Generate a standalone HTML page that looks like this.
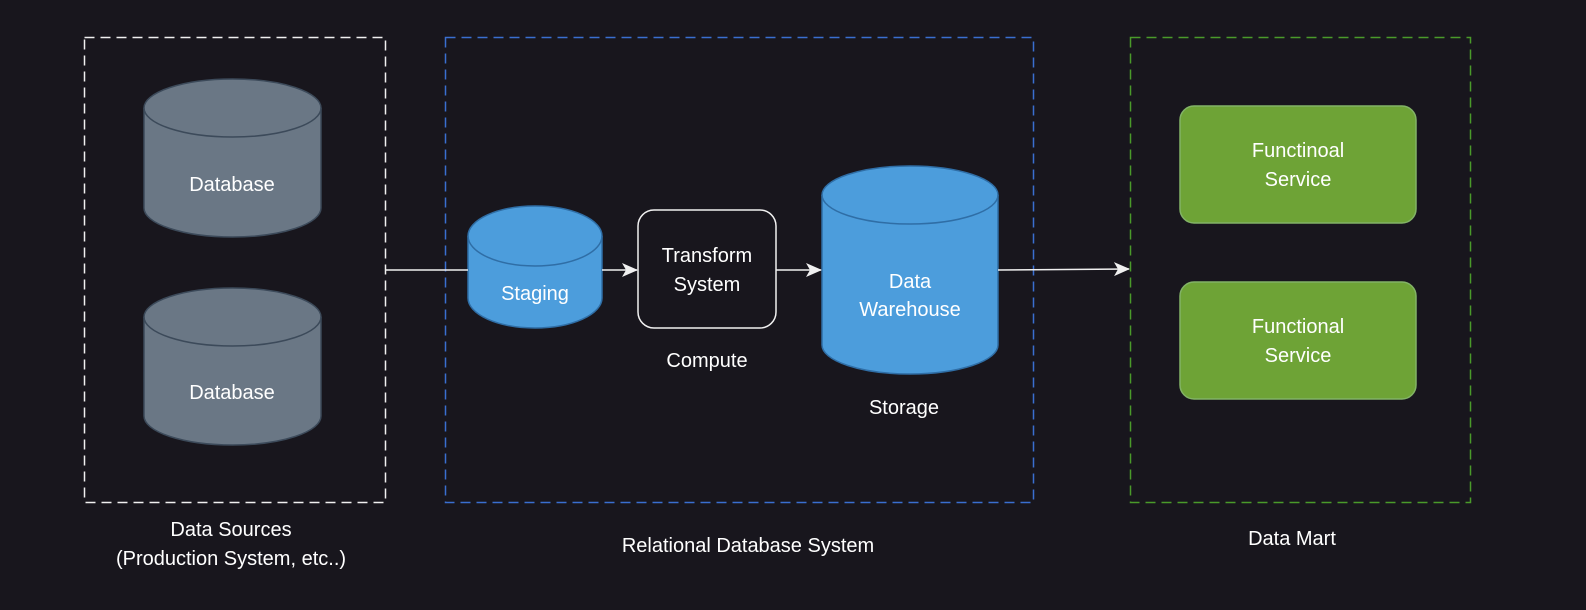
<!DOCTYPE html>
<html><head><style>
body{margin:0;background:#18161d;}
svg{display:block;font-family:"Liberation Sans",Arial,sans-serif;}
</style></head><body>
<svg width="1586" height="610" viewBox="0 0 1586 610">
<rect width="1586" height="610" fill="#18161d"/>
<defs><marker id="a" markerWidth="16" markerHeight="14" refX="15" refY="7" orient="auto" markerUnits="userSpaceOnUse"><path d="M0,0 L16,7 L0,14 L4,7 Z" fill="#f0f0f0"/></marker></defs>
<rect x="84.5" y="37.5" width="301" height="465" fill="none" stroke="#f0f0f0" stroke-width="1.5" stroke-dasharray="10,6"/>
<rect x="445.5" y="37.5" width="588" height="465" fill="none" stroke="#3a6fd0" stroke-width="1.5" stroke-dasharray="10,6"/>
<rect x="1130.5" y="37.5" width="340" height="465" fill="none" stroke="#4a9a2a" stroke-width="1.5" stroke-dasharray="10,6"/>
<g fill="#6a7785" stroke="#3c4a5a" stroke-width="1.5">
<path d="M144,108 A88.5,29 0 0 1 321,108 V208 A88.5,29 0 0 1 144,208 Z"/>
<path d="M144,108 A88.5,29 0 0 0 321,108" fill="none"/>
<path d="M144,317 A88.5,29 0 0 1 321,317 V416 A88.5,29 0 0 1 144,416 Z"/>
<path d="M144,317 A88.5,29 0 0 0 321,317" fill="none"/>
</g>
<g fill="#4c9ddc" stroke="#2f6ea6" stroke-width="1.5">
<path d="M468,236 A67,30 0 0 1 602,236 V298 A67,30 0 0 1 468,298 Z"/>
<path d="M468,236 A67,30 0 0 0 602,236" fill="none"/>
<path d="M822,195 A88,29 0 0 1 998,195 V345 A88,29 0 0 1 822,345 Z"/>
<path d="M822,195 A88,29 0 0 0 998,195" fill="none"/>
</g>
<rect x="638" y="210" width="138" height="118" rx="16" fill="#18161d" stroke="#f0f0f0" stroke-width="1.5"/>
<rect x="1180" y="106" width="236" height="117" rx="14" fill="#6ea336" stroke="#82b366" stroke-width="1.5"/>
<rect x="1180" y="282" width="236" height="117" rx="14" fill="#6ea336" stroke="#82b366" stroke-width="1.5"/>
<g stroke="#f0f0f0" stroke-width="1.5" fill="none">
<line x1="385" y1="270" x2="468" y2="270"/>
<line x1="602" y1="270" x2="637" y2="270" marker-end="url(#a)"/>
<line x1="776" y1="270" x2="821" y2="270" marker-end="url(#a)"/>
<line x1="998" y1="270" x2="1129" y2="269" marker-end="url(#a)"/>
</g>
<g fill="#ffffff" font-size="20" text-anchor="middle">
<text x="232" y="191">Database</text>
<text x="232" y="399">Database</text>
<text x="535" y="300">Staging</text>
<text x="707" y="262">Transform</text>
<text x="707" y="291">System</text>
<text x="910" y="288">Data</text>
<text x="910" y="316">Warehouse</text>
<text x="1298" y="157">Functinoal</text>
<text x="1298" y="186">Service</text>
<text x="1298" y="333">Functional</text>
<text x="1298" y="362">Service</text>
<text x="707" y="367">Compute</text>
<text x="904" y="414">Storage</text>
<text x="231" y="536">Data Sources</text>
<text x="231" y="565">(Production System, etc..)</text>
<text x="748" y="552">Relational Database System</text>
<text x="1292" y="545">Data Mart</text>
</g>
</svg>
</body></html>
